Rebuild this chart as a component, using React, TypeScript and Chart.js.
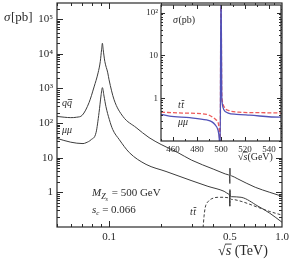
import React, { useEffect, useRef } from "react";
import { Chart, registerables } from "chart.js";
Chart.register(...registerables);

const FONT = '"Liberation Serif", "DejaVu Serif", serif';
const INK = "#2a2a2a";

// ---------- main plot data (sqrt(s) in TeV, sigma in pb) ----------
const qqX = [0.05, 0.055, 0.06, 0.065, 0.07, 0.0766, 0.0819, 0.0864, 0.089, 0.0905, 0.0915, 0.0925, 0.0945, 0.0983, 0.1, 0.1069, 0.1205, 0.1433, 0.1703, 0.2, 0.25, 0.3, 0.4, 0.45, 0.49, 0.497, 0.4993, 0.5, 0.5006, 0.502, 0.51, 0.55, 0.7, 0.85, 1.0];
const qqY = [155, 147, 143, 147, 168, 388, 1100, 2800, 6000, 13000, 20000, 13000, 6000, 2800, 1770, 470, 153, 74, 38, 24, 14, 8.5, 4.7, 3.7, 3.2, 3.0, 1.8, 5.0, 3.8, 3.2, 3.0, 2.5, 1.4, 1.0, 0.77];

const mmX = [0.05, 0.06, 0.0707, 0.0736, 0.0787, 0.0841, 0.0875, 0.0898, 0.0915, 0.0935, 0.0959, 0.1004, 0.105, 0.1147, 0.131, 0.1637, 0.2135, 0.2978, 0.373, 0.4627, 0.49, 0.497, 0.4993, 0.5, 0.5006, 0.502, 0.51, 0.58, 0.726, 0.85, 1.0];
const mmY = [36, 28, 25.5, 27, 33, 53, 199, 600, 1050, 600, 300, 125, 65, 33, 14, 6.4, 4.0, 2.2, 1.49, 1.07, 0.9, 0.8, 0.4, 1.2, 0.95, 0.8, 0.75, 0.72, 0.4, 0.25, 0.137];

const ttX = [0.3455, 0.35, 0.354, 0.36, 0.375, 0.4, 0.426, 0.46, 0.487, 0.497, 0.4993, 0.5, 0.5006, 0.502, 0.52, 0.58, 0.726, 0.85, 1.0];
const ttY = [0.05, 0.1, 0.2, 0.37, 0.55, 0.68, 0.72, 0.72, 0.7, 0.66, 0.4, 1.1, 0.8, 0.66, 0.62, 0.55, 0.37, 0.28, 0.22];

const mainXTicks = [0.1, 0.5, 1.0];
const mainXTickLabels = ["0.1", "0.5", "1.0"];
const mainYTicks = [1, 10, 100, 1000, 10000, 100000];
const mainYTickLabels = ["1", "10", "10\u00b2", "10\u00b3", "10\u2074", "10\u2075"];

// ---------- inset data (sqrt(s) in GeV, sigma in pb) ----------
const inMmX = [450, 457, 474, 488, 492.5, 495, 497.5, 498.5, 499.3, 500, 500.6, 501, 502.5, 506, 513, 524, 549, 550];
const inMmY = [0.42, 0.38, 0.35, 0.31, 0.28, 0.24, 0.18, 0.12, 0.05, 800, 1.3, 0.76, 0.53, 0.45, 0.42, 0.4, 0.36, 0.36];

const inTtX = [450, 468, 488, 493, 496, 498.3, 499.3, 500, 500.6, 501, 503, 507, 515, 530, 550];
const inTtY = [0.47, 0.45, 0.42, 0.36, 0.31, 0.21, 0.05, 800, 1.5, 0.9, 0.6, 0.51, 0.47, 0.46, 0.45];

const insetXTicks = [460, 480, 500, 520, 540];
const insetXTickLabels = ["460", "480", "500", "520", "540"];
const insetYTicks = [1, 10, 100];
const insetYTickLabels = ["1", "10", "10\u00b2"];

function logMinors(lo: number, hi: number): number[] {
  const out: number[] = [];
  for (let e = lo; e <= hi; e++) {
    for (let m = 1; m <= 9; m++) out.push(m * Math.pow(10, e));
  }
  return out;
}

function framePlugin(id: string, xMaj: number[], xMin: number[], yMaj: number[], yMin: number[], lMaj: number, lMin: number, fillWhite: boolean) {
  return {
    id,
    beforeDatasetsDraw(chart: any) {
      if (!fillWhite) return;
      const { ctx, chartArea } = chart;
      ctx.save();
      ctx.fillStyle = "#ffffff";
      ctx.fillRect(chartArea.left, chartArea.top, chartArea.right - chartArea.left, chartArea.bottom - chartArea.top);
      ctx.restore();
    },
    afterDatasetsDraw(chart: any) {
      const { ctx, chartArea } = chart;
      const { left, right, top, bottom } = chartArea;
      const xs = chart.scales.x;
      const ys = chart.scales.y;
      ctx.save();
      ctx.strokeStyle = INK;
      ctx.lineWidth = 1;
      ctx.beginPath();
      const drawX = (v: number, L: number) => {
        const p = Math.round(xs.getPixelForValue(v)) + 0.5;
        if (p < left || p > right) return;
        ctx.moveTo(p, bottom);
        ctx.lineTo(p, bottom - L);
        ctx.moveTo(p, top);
        ctx.lineTo(p, top + L);
      };
      const drawY = (v: number, L: number) => {
        const p = Math.round(ys.getPixelForValue(v)) + 0.5;
        if (p < top || p > bottom) return;
        ctx.moveTo(left, p);
        ctx.lineTo(left + L, p);
        ctx.moveTo(right, p);
        ctx.lineTo(right - L, p);
      };
      xMin.forEach((v) => drawX(v, lMin));
      xMaj.forEach((v) => drawX(v, lMaj));
      yMin.forEach((v) => drawY(v, lMin));
      yMaj.forEach((v) => drawY(v, lMaj));
      ctx.stroke();
      ctx.lineWidth = 1.2;
      ctx.strokeRect(left, top, right - left, bottom - top);
      ctx.restore();
    },
  };
}

function sqrtS(ctx: CanvasRenderingContext2D, x: number, y: number, size: number): number {
  ctx.font = `${size}px ${FONT}`;
  ctx.fillText("\u221a", x, y);
  const w1 = ctx.measureText("\u221a").width;
  ctx.font = `italic ${size}px ${FONT}`;
  ctx.fillText("s", x + w1, y);
  const w2 = ctx.measureText("s").width;
  ctx.beginPath();
  ctx.lineWidth = Math.max(0.7, size / 16);
  ctx.moveTo(x + w1 - 0.5, y - size * 0.78);
  ctx.lineTo(x + w1 + w2 + 0.5, y - size * 0.78);
  ctx.stroke();
  return x + w1 + w2;
}

const mainTextPlugin = {
  id: "mainText",
  afterDraw(chart: any) {
    const ctx: CanvasRenderingContext2D = chart.ctx;
    ctx.save();
    ctx.fillStyle = INK;
    ctx.strokeStyle = INK;
    ctx.textBaseline = "alphabetic";
    ctx.textAlign = "left";
    // y title
    ctx.font = `italic 13px ${FONT}`;
    ctx.fillText("\u03c3", 4, 21);
    let w = ctx.measureText("\u03c3").width;
    ctx.font = `13px ${FONT}`;
    ctx.fillText("[pb]", 4 + w + 0.5, 21);
    // curve labels
    ctx.font = `italic 10px ${FONT}`;
    ctx.fillText("q", 62, 106);
    let wq = ctx.measureText("q").width;
    ctx.fillText("q", 62 + wq, 106);
    ctx.lineWidth = 0.8;
    ctx.beginPath();
    ctx.moveTo(62 + wq + 0.8, 99.5);
    ctx.lineTo(62 + 2 * wq + 0.3, 99.5);
    ctx.stroke();
    ctx.fillText("\u03bc\u03bc", 62, 133);
    ctx.fillText("t", 190, 215);
    const wt = ctx.measureText("t").width;
    ctx.fillText("t", 190 + wt + 0.5, 215);
    ctx.beginPath();
    ctx.moveTo(190 + wt + 0.8, 207.5);
    ctx.lineTo(190 + 2 * wt + 0.8, 207.5);
    ctx.stroke();
    // M_Zs = 500 GeV
    let x = 92;
    ctx.font = `italic 11px ${FONT}`;
    ctx.fillText("M", x, 196);
    x += ctx.measureText("M").width;
    ctx.font = `italic 8px ${FONT}`;
    ctx.fillText("Z", x, 199);
    x += ctx.measureText("Z").width;
    ctx.font = `italic 6px ${FONT}`;
    ctx.fillText("s", x, 201);
    x += ctx.measureText("s").width + 1;
    ctx.font = `11px ${FONT}`;
    ctx.fillText(" = 500 GeV", x, 196);
    // s_c = 0.066
    x = 92;
    ctx.font = `italic 11px ${FONT}`;
    ctx.fillText("s", x, 213);
    x += ctx.measureText("s").width;
    ctx.font = `italic 7px ${FONT}`;
    ctx.fillText("c", x, 215);
    x += ctx.measureText("c").width;
    ctx.font = `11px ${FONT}`;
    ctx.fillText(" = 0.066", x, 213);
    // x title
    const xe = sqrtS(ctx, 218, 255, 14);
    ctx.font = `14px ${FONT}`;
    ctx.fillText(" (TeV)", xe, 255);
    ctx.restore();
  },
};

const insetTextPlugin = {
  id: "insetText",
  afterDraw(chart: any) {
    const ctx: CanvasRenderingContext2D = chart.ctx;
    ctx.save();
    ctx.fillStyle = INK;
    ctx.strokeStyle = INK;
    ctx.textAlign = "left";
    ctx.textBaseline = "alphabetic";
    ctx.font = `italic 10px ${FONT}`;
    ctx.fillText("\u03c3", 43, 23);
    const w = ctx.measureText("\u03c3").width;
    ctx.font = `10px ${FONT}`;
    ctx.fillText("(pb)", 43 + w + 0.5, 23);
    ctx.font = `italic 10px ${FONT}`;
    ctx.fillText("t", 48, 108);
    const wt = ctx.measureText("t").width;
    ctx.fillText("t", 48 + wt + 0.5, 108);
    ctx.lineWidth = 0.8;
    ctx.beginPath();
    ctx.moveTo(48 + wt + 0.8, 100.5);
    ctx.lineTo(48 + 2 * wt + 0.8, 100.5);
    ctx.stroke();
    ctx.fillText("\u03bc\u03bc", 48, 125);
    const xe = sqrtS(ctx, 108, 160, 10);
    ctx.font = `10px ${FONT}`;
    ctx.fillText("(GeV)", xe, 160);
    ctx.restore();
  },
};

function pts(xs: number[], ys: number[]) {
  return xs.map((x, i) => ({ x, y: ys[i] }));
}

function fixX(h: number) {
  return (s: any) => {
    s.height = h;
    s.paddingLeft = 0;
    s.paddingRight = 0;
    s.paddingTop = 0;
    s.paddingBottom = 0;
  };
}
function fixY(w: number) {
  return (s: any) => {
    s.width = w;
    s.paddingLeft = 0;
    s.paddingRight = 0;
    s.paddingTop = 0;
    s.paddingBottom = 0;
  };
}

const noGrid = { display: false, drawTicks: false, tickLength: 0 };

export default function App() {
  const mainRef = useRef<HTMLCanvasElement>(null);
  const insetRef = useRef<HTMLCanvasElement>(null);

  useEffect(() => {
    const main = new Chart(mainRef.current as HTMLCanvasElement, {
      type: "line",
      data: {
        datasets: [
          { data: pts(qqX, qqY), borderColor: "#3c3c3c", borderWidth: 1, pointRadius: 0, cubicInterpolationMode: "monotone", fill: false },
          { data: pts(mmX, mmY), borderColor: "#3c3c3c", borderWidth: 1, pointRadius: 0, cubicInterpolationMode: "monotone", fill: false },
          { data: pts(ttX, ttY), borderColor: "#3c3c3c", borderWidth: 1, borderDash: [3, 2], pointRadius: 0, cubicInterpolationMode: "monotone", fill: false },
        ],
      },
      options: {
        animation: false,
        responsive: false,
        maintainAspectRatio: false,
        layout: { padding: { top: 3, right: 9, left: 0, bottom: 0 } },
        plugins: { legend: { display: false }, tooltip: { enabled: false } },
        scales: {
          x: {
            type: "logarithmic",
            min: 0.05,
            max: 1.0,
            grid: noGrid,
            border: { display: false },
            afterBuildTicks: (s: any) => { s.ticks = mainXTicks.map((v) => ({ value: v })); },
            afterFit: fixX(46),
            ticks: { autoSkip: false, maxRotation: 0, padding: 4, color: INK, font: { family: FONT, size: 11 }, callback: (_v: any, i: number) => mainXTickLabels[i] },
          },
          y: {
            type: "logarithmic",
            min: 0.1,
            max: 290000,
            grid: noGrid,
            border: { display: false },
            afterBuildTicks: (s: any) => { s.ticks = mainYTicks.map((v) => ({ value: v })); },
            afterFit: fixY(57),
            ticks: { autoSkip: false, padding: 4, color: INK, font: { family: FONT, size: 11 }, callback: (_v: any, i: number) => mainYTickLabels[i] },
          },
        },
      },
      plugins: [
        framePlugin("mainFrame", [0.1, 1.0], [0.05, 0.06, 0.07, 0.08, 0.09, 0.2, 0.3, 0.4, 0.5, 0.6, 0.7, 0.8, 0.9], [0.1, 1, 10, 100, 1000, 10000, 100000], logMinors(-1, 5), 6, 3, false),
        mainTextPlugin,
      ],
    } as any);

    const inset = new Chart(insetRef.current as HTMLCanvasElement, {
      type: "line",
      data: {
        datasets: [
          { data: pts(inMmX, inMmY), borderColor: "#5252b8", borderWidth: 1.3, pointRadius: 0, cubicInterpolationMode: "monotone", fill: false },
          { data: pts(inTtX, inTtY), borderColor: "#ee5a5a", borderWidth: 1.3, borderDash: [4, 2], pointRadius: 0, cubicInterpolationMode: "monotone", fill: false },
        ],
      },
      options: {
        animation: false,
        responsive: false,
        maintainAspectRatio: false,
        layout: { padding: { top: 5, right: 10, left: 0, bottom: 0 } },
        plugins: { legend: { display: false }, tooltip: { enabled: false } },
        scales: {
          x: {
            type: "linear",
            min: 450,
            max: 550,
            grid: noGrid,
            border: { display: false },
            afterBuildTicks: (s: any) => { s.ticks = insetXTicks.map((v) => ({ value: v })); },
            afterFit: fixX(24),
            ticks: { autoSkip: false, maxRotation: 0, padding: 3, color: INK, font: { family: FONT, size: 9 }, callback: (_v: any, i: number) => insetXTickLabels[i] },
          },
          y: {
            type: "logarithmic",
            min: 0.1,
            max: 150,
            grid: noGrid,
            border: { display: false },
            afterBuildTicks: (s: any) => { s.ticks = insetYTicks.map((v) => ({ value: v })); },
            afterFit: fixY(31),
            ticks: { autoSkip: false, padding: 3, color: INK, font: { family: FONT, size: 9 }, callback: (_v: any, i: number) => insetYTickLabels[i] },
          },
        },
      },
      plugins: [
        framePlugin("insetFrame", [460, 480, 500, 520, 540], [450, 470, 490, 510, 530, 550], [0.1, 1, 10, 100], logMinors(-1, 2), 4, 2, true),
        insetTextPlugin,
      ],
    } as any);

    return () => {
      main.destroy();
      inset.destroy();
    };
  }, []);

  return (
    <div style={{ position: "fixed", left: 0, top: 0, width: 291, height: 273, background: "#fff" }}>
      <canvas ref={mainRef} width={291} height={273} style={{ position: "absolute", left: 0, top: 0, width: 291, height: 273 }} />
      <canvas ref={insetRef} width={161} height={165} style={{ position: "absolute", left: 130, top: 0, width: 161, height: 165 }} />
    </div>
  );
}
